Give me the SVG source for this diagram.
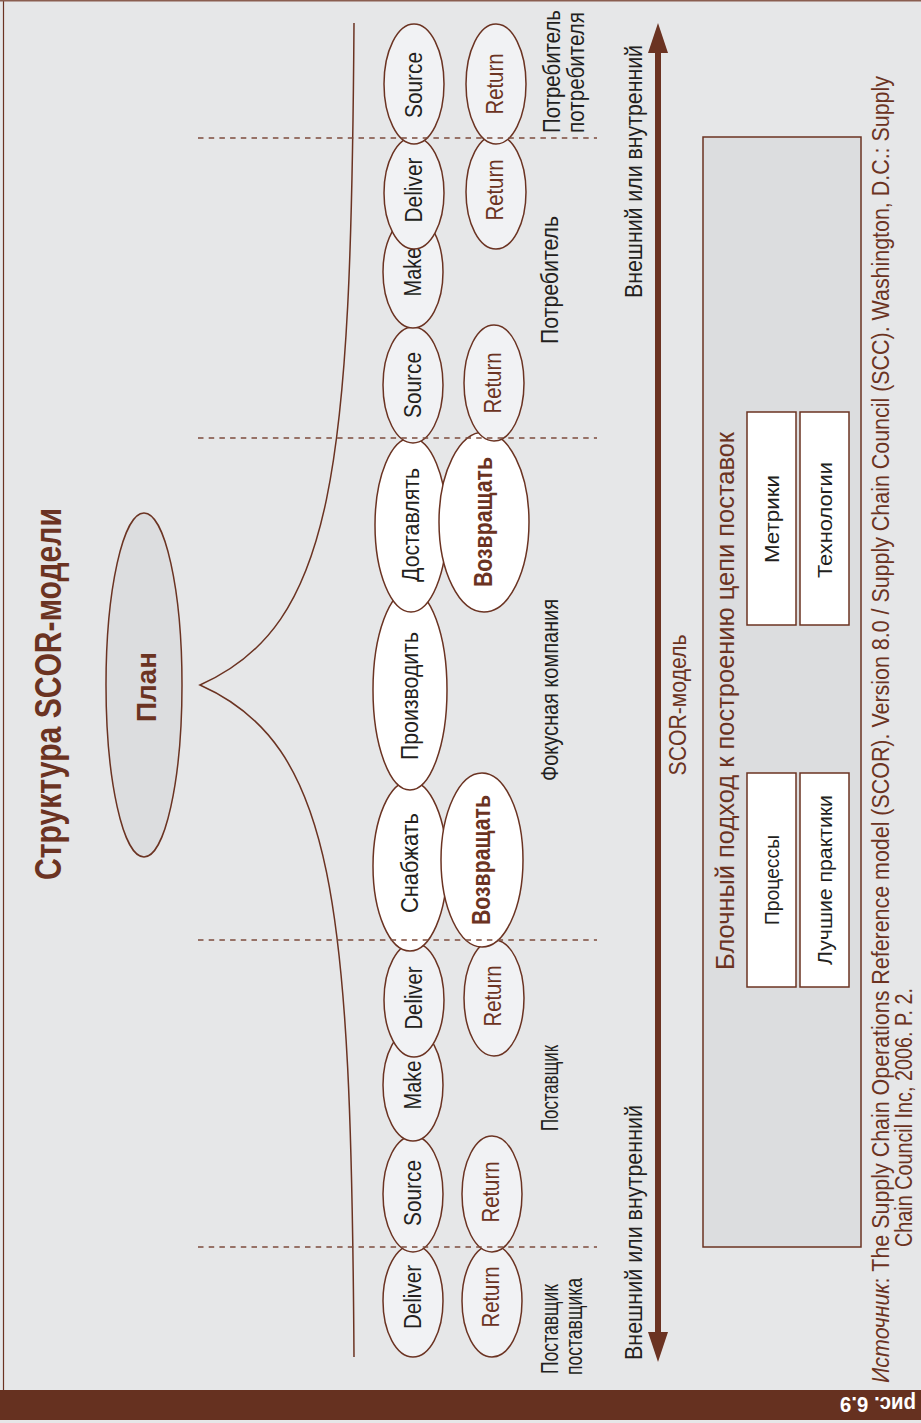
<svg xmlns="http://www.w3.org/2000/svg" width="921" height="1423" viewBox="0 0 921 1423">
<style>
text{font-family:"Liberation Sans",Arial,sans-serif;fill:#231f20}
.lbl{font-size:23px;text-anchor:middle}
.ret{fill:#6b3322}
.bold{font-weight:bold;fill:#6b3322}
.lite{fill:#f1f2f4;stroke:#6b3322;stroke-width:1.5}
.wht{fill:#ffffff;stroke:#6b3322;stroke-width:1.5}
.dash{stroke:#7d4c3d;stroke-width:1.6;stroke-dasharray:5.5 5.2;fill:none}
.side{font-size:23px}
.box{fill:#ffffff;stroke:#6b3322;stroke-width:1.5}
.bt{font-size:21px;text-anchor:middle}
</style>
<defs>
<marker id="ah" markerUnits="userSpaceOnUse" markerWidth="30" markerHeight="20" refX="0" refY="10" orient="auto-start-reverse">
<path d="M0,0 L30,10 L0,20 z" fill="#6b3322"/>
</marker>
</defs>
<rect x="0" y="0" width="921" height="1423" fill="#e6e7e8"/>
<line x1="3.5" y1="0" x2="3.5" y2="1390" stroke="#6b3322" stroke-width="1.2"/>
<line x1="0" y1="0.7" x2="921" y2="0.7" stroke="#8a5e50" stroke-width="1.4"/>
<rect x="0" y="1390" width="921" height="30" fill="#663120"/>
<text transform="translate(916,1397) rotate(180)" font-size="22" font-weight="bold" style="fill:#ffffff" textLength="76" lengthAdjust="spacingAndGlyphs">рис. 6.9</text>

<g id="title">
<text transform="translate(61,694) rotate(-90)" class="bold" font-size="36" text-anchor="middle" textLength="372" lengthAdjust="spacingAndGlyphs">Структура SCOR-модели</text>
</g>

<g id="plan">
<ellipse cx="144" cy="685" rx="38" ry="172" fill="#dcdddf" stroke="#6b3322" stroke-width="1.5"/>
<text transform="translate(156,687) rotate(-90)" class="bold" font-size="28" text-anchor="middle" textLength="70" lengthAdjust="spacingAndGlyphs">План</text>
</g>

<g id="connectors">
<path d="M354,23 C351,470 335,625 200,685 C335,745 351,900 354,1357" fill="none" stroke="#6b3322" stroke-width="1.5"/>
<line x1="658" y1="53" x2="658" y2="1332" stroke="#6b3322" stroke-width="6" marker-start="url(#ah)" marker-end="url(#ah)"/>
</g>

<!-- Row 1 -->
<g id="n-deliver-ss">
<ellipse class="lite" cx="413" cy="1301" rx="30" ry="56"/>
<text class="lbl" transform="translate(421,1297) rotate(-90)" textLength="64" lengthAdjust="spacingAndGlyphs">Deliver</text>
</g>
<g id="n-source-s">
<ellipse class="lite" cx="413" cy="1194" rx="30" ry="58"/>
<text class="lbl" transform="translate(421,1193) rotate(-90)" textLength="66" lengthAdjust="spacingAndGlyphs">Source</text>
</g>
<g id="n-make-s">
<ellipse class="lite" cx="413" cy="1085" rx="30" ry="56"/>
<text class="lbl" transform="translate(421,1085) rotate(-90)" textLength="49" lengthAdjust="spacingAndGlyphs">Make</text>
</g>
<g id="n-deliver-s">
<ellipse class="lite" cx="414" cy="1000" rx="30" ry="57"/>
<text class="lbl" transform="translate(422,998) rotate(-90)" textLength="63" lengthAdjust="spacingAndGlyphs">Deliver</text>
</g>
<g id="n-snabzhat">
<ellipse class="wht" cx="410" cy="866" rx="37" ry="85"/>
<text class="lbl" transform="translate(418,863) rotate(-90)" textLength="100" lengthAdjust="spacingAndGlyphs">Снабжать</text>
</g>
<g id="n-proizvodit">
<ellipse class="wht" cx="410" cy="690" rx="37" ry="100"/>
<text class="lbl" transform="translate(418,696) rotate(-90)" textLength="128" lengthAdjust="spacingAndGlyphs">Производить</text>
</g>
<g id="n-dostavlyat">
<ellipse class="wht" cx="411" cy="525" rx="36" ry="87"/>
<text class="lbl" transform="translate(419,525) rotate(-90)" textLength="114" lengthAdjust="spacingAndGlyphs">Доставлять</text>
</g>
<g id="n-source-c">
<ellipse class="lite" cx="413" cy="385" rx="30" ry="58"/>
<text class="lbl" transform="translate(421,385) rotate(-90)" textLength="66" lengthAdjust="spacingAndGlyphs">Source</text>
</g>
<g id="n-make-c">
<ellipse class="lite" cx="413" cy="272" rx="30" ry="56"/>
<text class="lbl" transform="translate(421,272) rotate(-90)" textLength="49" lengthAdjust="spacingAndGlyphs">Make</text>
</g>
<g id="n-deliver-c">
<ellipse class="lite" cx="414" cy="193" rx="30" ry="56"/>
<text class="lbl" transform="translate(422,190) rotate(-90)" textLength="65" lengthAdjust="spacingAndGlyphs">Deliver</text>
</g>
<g id="n-source-cc">
<ellipse class="lite" cx="414" cy="84" rx="30" ry="60"/>
<text class="lbl" transform="translate(422,85) rotate(-90)" textLength="66" lengthAdjust="spacingAndGlyphs">Source</text>
</g>

<!-- Row 2 -->
<g id="n-return-ss">
<ellipse class="lite" cx="492" cy="1301" rx="30" ry="56"/>
<text class="lbl ret" transform="translate(499,1297) rotate(-90)" textLength="61" lengthAdjust="spacingAndGlyphs">Return</text>
</g>
<g id="n-return-s1">
<ellipse class="lite" cx="492" cy="1194" rx="30" ry="58"/>
<text class="lbl ret" transform="translate(499,1192) rotate(-90)" textLength="61" lengthAdjust="spacingAndGlyphs">Return</text>
</g>
<g id="n-return-s2">
<ellipse class="lite" cx="494" cy="998" rx="30" ry="58"/>
<text class="lbl ret" transform="translate(501,996) rotate(-90)" textLength="61" lengthAdjust="spacingAndGlyphs">Return</text>
</g>
<g id="n-vozvr-1">
<ellipse class="wht" cx="482" cy="860" rx="41" ry="87"/>
<text class="bold" font-size="25" text-anchor="middle" transform="translate(490,860) rotate(-90)" textLength="130" lengthAdjust="spacingAndGlyphs">Возвращать</text>
</g>
<g id="n-vozvr-2">
<ellipse class="wht" cx="484" cy="522" rx="45" ry="90"/>
<text class="bold" font-size="25" text-anchor="middle" transform="translate(492,522) rotate(-90)" textLength="130" lengthAdjust="spacingAndGlyphs">Возвращать</text>
</g>
<g id="n-return-c1">
<ellipse class="lite" cx="494" cy="383" rx="30" ry="58"/>
<text class="lbl ret" transform="translate(501,383) rotate(-90)" textLength="61" lengthAdjust="spacingAndGlyphs">Return</text>
</g>
<g id="n-return-c2">
<ellipse class="lite" cx="496" cy="192" rx="30" ry="57"/>
<text class="lbl ret" transform="translate(503,190) rotate(-90)" textLength="61" lengthAdjust="spacingAndGlyphs">Return</text>
</g>
<g id="n-return-cc">
<ellipse class="lite" cx="496" cy="84" rx="30" ry="60"/>
<text class="lbl ret" transform="translate(503,84) rotate(-90)" textLength="61" lengthAdjust="spacingAndGlyphs">Return</text>
</g>

<g id="dividers">
<line class="dash" x1="198" y1="138" x2="597" y2="138"/>
<line class="dash" x1="198" y1="438" x2="597" y2="438"/>
<line class="dash" x1="198" y1="940" x2="597" y2="940"/>
<line class="dash" x1="198" y1="1247" x2="597" y2="1247"/>
</g>

<g id="labels">
<text class="side" transform="translate(558,1374) rotate(-90)" textLength="90" lengthAdjust="spacingAndGlyphs">Поставщик</text>
<text class="side" transform="translate(582,1375) rotate(-90)" textLength="97" lengthAdjust="spacingAndGlyphs">поставщика</text>
<text class="side" text-anchor="middle" transform="translate(558,1088) rotate(-90)" textLength="86" lengthAdjust="spacingAndGlyphs">Поставщик</text>
<text class="side" text-anchor="middle" transform="translate(558,690) rotate(-90)" textLength="182" lengthAdjust="spacingAndGlyphs">Фокусная компания</text>
<text class="side" text-anchor="middle" transform="translate(558,280) rotate(-90)" textLength="128" lengthAdjust="spacingAndGlyphs">Потребитель</text>
<text class="side" transform="translate(560,133) rotate(-90)" textLength="123" lengthAdjust="spacingAndGlyphs">Потребитель</text>
<text class="side" transform="translate(584,133) rotate(-90)" textLength="121" lengthAdjust="spacingAndGlyphs">потребителя</text>
<text class="side" transform="translate(642,1360) rotate(-90)" textLength="255" lengthAdjust="spacingAndGlyphs">Внешний или внутренний</text>
<text class="side" transform="translate(642,298) rotate(-90)" textLength="253" lengthAdjust="spacingAndGlyphs">Внешний или внутренний</text>
<text class="side ret" font-size="20" text-anchor="middle" transform="translate(686,705) rotate(-90)" textLength="141" lengthAdjust="spacingAndGlyphs">SCOR-модель</text>
</g>

<g id="block">
<rect x="703" y="137" width="158" height="1110" fill="#dcdddf" stroke="#6b3322" stroke-width="1.5"/>
<text class="ret" font-size="25" text-anchor="middle" transform="translate(734,701) rotate(-90)" textLength="538" lengthAdjust="spacingAndGlyphs">Блочный подход к построению цепи поставок</text>
</g>
<g id="b-processes">
<rect class="box" x="747" y="773" width="49" height="214"/>
<text class="bt" transform="translate(779,880) rotate(-90)" textLength="90" lengthAdjust="spacingAndGlyphs">Процессы</text>
</g>
<g id="b-practices">
<rect class="box" x="800" y="773" width="49" height="214"/>
<text class="bt" transform="translate(832,880) rotate(-90)" textLength="170" lengthAdjust="spacingAndGlyphs">Лучшие практики</text>
</g>
<g id="b-metrics">
<rect class="box" x="747" y="412" width="49" height="213"/>
<text class="bt" transform="translate(779,519) rotate(-90)" textLength="88" lengthAdjust="spacingAndGlyphs">Метрики</text>
</g>
<g id="b-tech">
<rect class="box" x="800" y="412" width="49" height="213"/>
<text class="bt" transform="translate(832,520) rotate(-90)" textLength="116" lengthAdjust="spacingAndGlyphs">Технологии</text>
</g>

<g id="source">
<text class="ret" font-size="23" transform="translate(889,1383) rotate(-90)" textLength="1307" lengthAdjust="spacingAndGlyphs"><tspan font-style="italic">Источник</tspan>: The Supply Chain Operations Reference model (SCOR). Version 8.0 / Supply Chain Council (SCC). Washington, D.C.: Supply</text>
<text class="ret" font-size="23" transform="translate(912,1247) rotate(-90)" textLength="259" lengthAdjust="spacingAndGlyphs">Chain Council Inc, 2006. P. 2.</text>
</g>
</svg>
